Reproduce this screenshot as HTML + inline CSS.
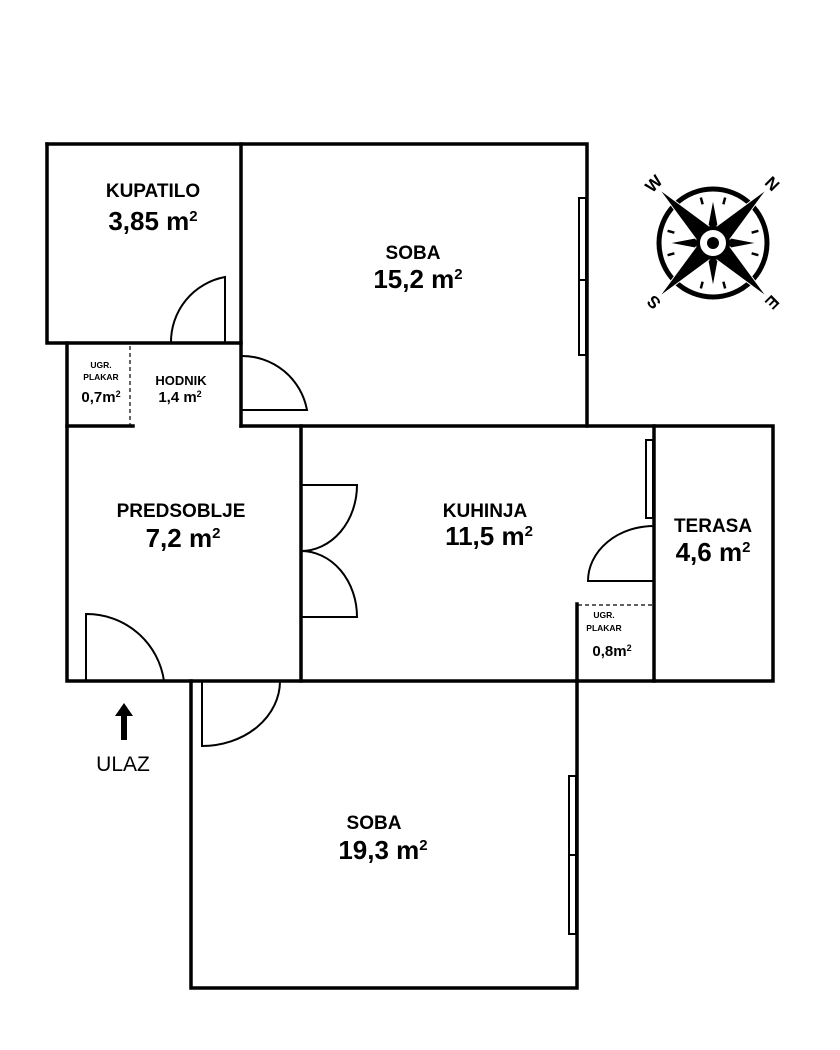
<!DOCTYPE html>
<html><head><meta charset="utf-8"><style>html,body{margin:0;padding:0;background:#fff}svg{display:block}</style></head><body>
<svg width="840" height="1050" viewBox="0 0 840 1050" xmlns="http://www.w3.org/2000/svg" font-family="Liberation Sans, sans-serif">
<g stroke="#000" stroke-width="3.5" fill="none" stroke-linecap="square">
<path d="M47 144 H587 V426"/>
<path d="M47 144 V343 H241"/>
<path d="M241 144 V426"/>
<path d="M67 343 V681 H773 V426 H241"/>
<path d="M67 426 H133"/>
<path d="M301 426 V681"/>
<path d="M654 426 V681"/>
<path d="M577 604 V988 H191 V681"/>
</g>
<g stroke="#000" stroke-width="2" fill="none">
<rect x="579" y="198" width="7" height="157" fill="#fff"/><line x1="579" y1="280" x2="586" y2="280"/>
<rect x="646" y="440" width="7" height="78" fill="#fff"/>
<rect x="569" y="776" width="7" height="158" fill="#fff"/><line x1="569" y1="855" x2="576" y2="855"/>
<path d="M225 343 V277 A66 66 0 0 0 171 343"/>
<path d="M241 410 H307 A66 66 0 0 0 241 356"/>
<path d="M86 681 V614 A78 78 0 0 1 164 681"/>
<path d="M301 485 H357 A56 66 0 0 1 301 551 A56 66 0 0 1 357 617 H301"/>
<path d="M654 581 H588 A66 55 0 0 1 654 526"/>
<path d="M202 681 V746 A78 65 0 0 0 280 681"/>
<path d="M130 346 V425" stroke-width="1.2" stroke-dasharray="4,3"/>
<path d="M578 605 H654" stroke-width="1.2" stroke-dasharray="4,3"/>
</g>
<path d="M124 703 L133 716 H127 V740 H121 V716 H115 Z" fill="#000"/>
<g font-weight="bold" text-anchor="middle" fill="#000">
<text x="153" y="197" font-size="19">KUPATILO</text>
<text x="153" y="230" font-size="26">3,85 m<tspan font-size="15" dy="-9">2</tspan></text>
<text x="413" y="259" font-size="19">SOBA</text>
<text x="418" y="288" font-size="26">15,2 m<tspan font-size="15" dy="-9">2</tspan></text>
<text x="101" y="368" font-size="8.5">UGR.</text>
<text x="101" y="380" font-size="8.5">PLAKAR</text>
<text x="101" y="402" font-size="15">0,7m<tspan font-size="9" dy="-5">2</tspan></text>
<text x="181" y="385" font-size="13">HODNIK</text>
<text x="180" y="402" font-size="15">1,4 m<tspan font-size="9" dy="-5">2</tspan></text>
<text x="181" y="517" font-size="19">PREDSOBLJE</text>
<text x="183" y="547" font-size="26">7,2 m<tspan font-size="15" dy="-9">2</tspan></text>
<text x="485" y="517" font-size="19">KUHINJA</text>
<text x="489" y="545" font-size="26">11,5 m<tspan font-size="15" dy="-9">2</tspan></text>
<text x="713" y="532" font-size="19">TERASA</text>
<text x="713" y="561" font-size="26">4,6 m<tspan font-size="15" dy="-9">2</tspan></text>
<text x="604" y="618" font-size="8.5">UGR.</text>
<text x="604" y="631" font-size="8.5">PLAKAR</text>
<text x="612" y="656" font-size="15">0,8m<tspan font-size="9" dy="-5">2</tspan></text>
<text x="374" y="829" font-size="19">SOBA</text>
<text x="383" y="859" font-size="26">19,3 m<tspan font-size="15" dy="-9">2</tspan></text>
</g>
<text x="123" y="771" font-size="21" text-anchor="middle" fill="#000">ULAZ</text>
<g transform="translate(713,243)">
<circle r="54" fill="none" stroke="#000" stroke-width="5"/>
<g stroke="#000" stroke-width="2.5">
<line x1="0" y1="-47" x2="0" y2="-40" transform="rotate(15)"/><line x1="0" y1="-47" x2="0" y2="-40" transform="rotate(-15)"/>
<line x1="0" y1="-47" x2="0" y2="-40" transform="rotate(75)"/><line x1="0" y1="-47" x2="0" y2="-40" transform="rotate(105)"/>
<line x1="0" y1="-47" x2="0" y2="-40" transform="rotate(165)"/><line x1="0" y1="-47" x2="0" y2="-40" transform="rotate(195)"/>
<line x1="0" y1="-47" x2="0" y2="-40" transform="rotate(255)"/><line x1="0" y1="-47" x2="0" y2="-40" transform="rotate(285)"/>
</g>
<g fill="#000" stroke="#fff" stroke-width="1">
<path d="M0 -44 L7 -7 L44 0 L7 7 L0 44 L-7 7 L-44 0 L-7 -7 Z"/>
<g transform="rotate(45)"><path d="M0 -76 L10 -10 L76 0 L10 10 L0 76 L-10 10 L-76 0 L-10 -10 Z"/></g>
</g>
<circle r="15" fill="#fff" stroke="#000" stroke-width="4"/>
<circle r="6" fill="#000"/>
<g font-weight="bold" font-size="17" fill="#000" text-anchor="middle">
<text transform="rotate(45) translate(0,-84)" y="6">N</text>
<text transform="rotate(135) translate(0,-84)" y="6">E</text>
<text transform="rotate(-135) translate(0,-84)" y="6">S</text>
<text transform="rotate(-45) translate(0,-84)" y="6">W</text>
</g>
</g>
</svg>
</body></html>
